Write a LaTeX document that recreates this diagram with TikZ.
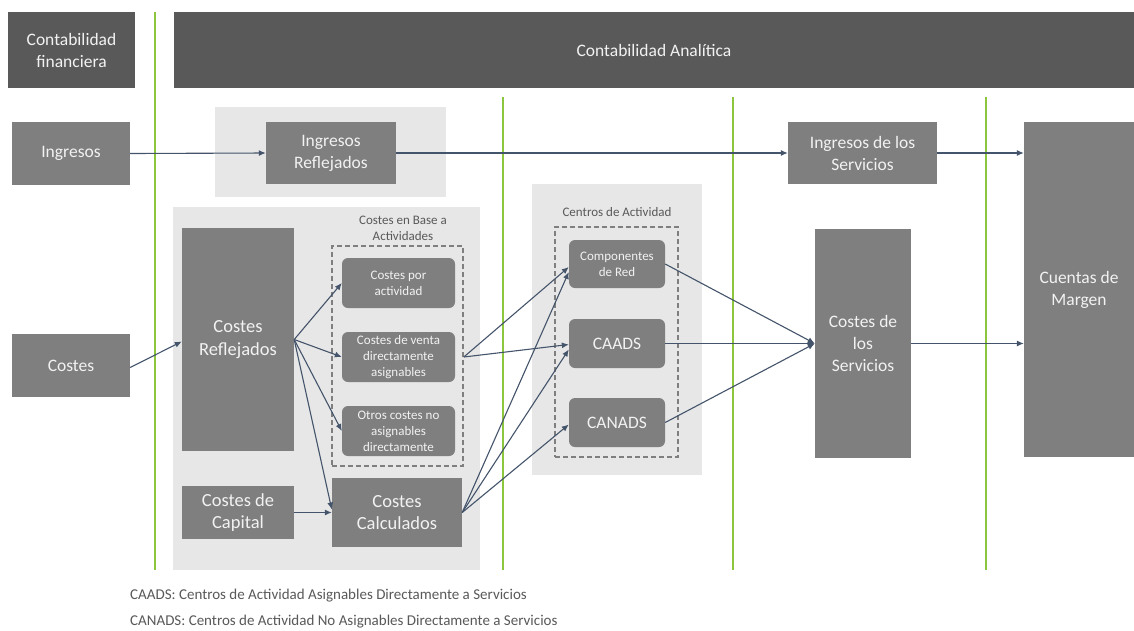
\documentclass[tikz,border=0pt]{standalone}
\usepackage{fontspec}
\setmainfont{Carlito}
\usetikzlibrary{arrows.meta,calc}
\definecolor{hdr}{HTML}{595959}
\definecolor{mid}{HTML}{7F7F7F}
\definecolor{pan}{HTML}{E7E7E7}
\definecolor{arr}{HTML}{44546A}
\definecolor{grn}{HTML}{8CC63F}
\definecolor{lbl}{HTML}{595959}
\tikzset{
  hdrbox/.style={fill=hdr,draw=none,text=white!95!black,align=center,inner sep=0pt},
  gbox/.style={fill=mid,draw=none,text=white!95!black,align=center,inner sep=0pt},
  rbox/.style={gbox,rounded corners=6pt},
  panel/.style={fill=pan,draw=none},
  dbox/.style={draw=mid,line width=1.6pt,dash pattern=on 5pt off 3pt,fill=none},
  conn/.style={draw=arr,line width=1.1pt,-{Latex[length=7pt,width=6pt]}},
  vline/.style={draw=grn,line width=1.6pt},
  lab/.style={text=lbl,align=center,inner sep=0pt},
  big/.style={font=\fontsize{17.5}{22}\selectfont},
  bigger/.style={font=\fontsize{18.5}{22.5}\selectfont},
  small/.style={font=\fontsize{13}{16}\selectfont},
}
\begin{document}
\begin{tikzpicture}[x=1pt,y=-1pt]
\useasboundingbox (0,0) rectangle (1134,630);
\fill[white] (0,0) rectangle (1134,630);
% panels
\fill[pan] (215,107) rectangle (446,197);
\fill[pan] (173,207) rectangle (480,570);
\fill[pan] (532,184) rectangle (702,475);
% green lines
\draw[vline] (155,12) -- (155,570);
\draw[vline] (503,97) -- (503,570);
\draw[vline] (733,97) -- (733,570);
\draw[vline] (986,97) -- (986,570);
% headers
\node[hdrbox,big,minimum width=127,minimum height=76] (cf) at (71.5,50) {Contabilidad\\financiera};
\node[hdrbox,big,minimum width=960,minimum height=76] (ca) at (654,50) {Contabilidad Analítica};
% row 1
\node[gbox,big,minimum width=118,minimum height=63] (ing) at (71,153.5) {Ingresos};
\node[gbox,big,minimum width=130,minimum height=62] (ir) at (331,153) {Ingresos\\Reflejados};
\node[gbox,big,minimum width=149,minimum height=62] (ids) at (862.5,153) {Ingresos de los\\Servicios};
\node[gbox,big,minimum width=110,minimum height=335] (cm) at (1079,289.5) {Cuentas de\\Margen};
% costs
\node[gbox,big,minimum width=118,minimum height=63] (cos) at (71,365.5) {Costes};
\node[gbox,bigger,minimum width=112,minimum height=223] (cr) at (238,339.5) {Costes\\Reflejados};
\node[lab,small] (cbl) at (403,228) {Costes en Base a\\Actividades};
\node[dbox,minimum width=131,minimum height=220] (d1) at (397.5,356) {};
\node[rbox,small,minimum width=113,minimum height=50] (cpa) at (398.5,283) {Costes por\\actividad};
\node[rbox,small,minimum width=113,minimum height=50] (cdv) at (398.5,357) {Costes de venta\\directamente\\asignables};
\node[rbox,small,minimum width=113,minimum height=50] (oc) at (398.5,431) {Otros costes no\\asignables\\directamente};
\node[gbox,bigger,minimum width=112,minimum height=53] (cc) at (238,512.5) {Costes de\\Capital};
\node[gbox,bigger,minimum width=130,minimum height=69] (ccal) at (397,512.5) {Costes\\Calculados};
% centros
\node[lab,small] (cal) at (617,212) {Centros de Actividad};
\node[dbox,minimum width=123,minimum height=230] (d2) at (616.5,342) {};
\node[rbox,small,minimum width=96,minimum height=48] (comp) at (617,264) {Componentes\\de Red};
\node[rbox,big,minimum width=96,minimum height=49] (caads) at (617,343.5) {CAADS};
\node[rbox,big,minimum width=96,minimum height=49] (canads) at (617,422.5) {CANADS};
\node[gbox,big,minimum width=96,minimum height=229] (cds) at (863,343.5) {Costes de\\los\\Servicios};
% footer
\node[lab,font=\fontsize{15}{17}\selectfont,anchor=west] (f1) at (130,596) {CAADS: Centros de Actividad Asignables Directamente a Servicios};
\node[lab,font=\fontsize{15}{17}\selectfont,anchor=west] (f2) at (130,622) {CANADS: Centros de Actividad No Asignables Directamente a Servicios};
% connectors
\coordinate (cdvout) at (d1.east |- cdv.east);
\draw[conn] (ing.east) -- (ir.west);
\draw[conn] (ir.east) -- (ids.west);
\draw[conn] (ids.east) -- (ids.east -| cm.west);
\draw[conn] ($(cos.east)+(0,2)$) -- ($(cr.west)+(0,2)$);
\draw[conn] (cr.east) -- (cpa.west);
\draw[conn] (cr.east) -- (cdv.west);
\draw[conn] (cr.east) -- (oc.west);
\draw[conn] (cr.east) -- ($(ccal.west)+(0,-3)$);
\draw[conn] (cc.east) -- (cc.east -| ccal.west);
\draw[conn] (cdvout) -- ($(comp.west)+(0,3)$);
\draw[conn] (cdvout) -- ($(caads.west)+(0,1)$);
\draw[conn] (ccal.east) -- ($(comp.west)+(0,8)$);
\draw[conn] (ccal.east) -- ($(caads.west)+(0,6)$);
\draw[conn] (ccal.east) -- ($(canads.west)+(0,2)$);
\draw[conn] (comp.east) -- (cds.west);
\draw[conn] (caads.east) -- (cds.west);
\draw[conn] (canads.east) -- (cds.west);
\draw[conn] (cds.east) -- (cds.east -| cm.west);
\end{tikzpicture}
\end{document}
